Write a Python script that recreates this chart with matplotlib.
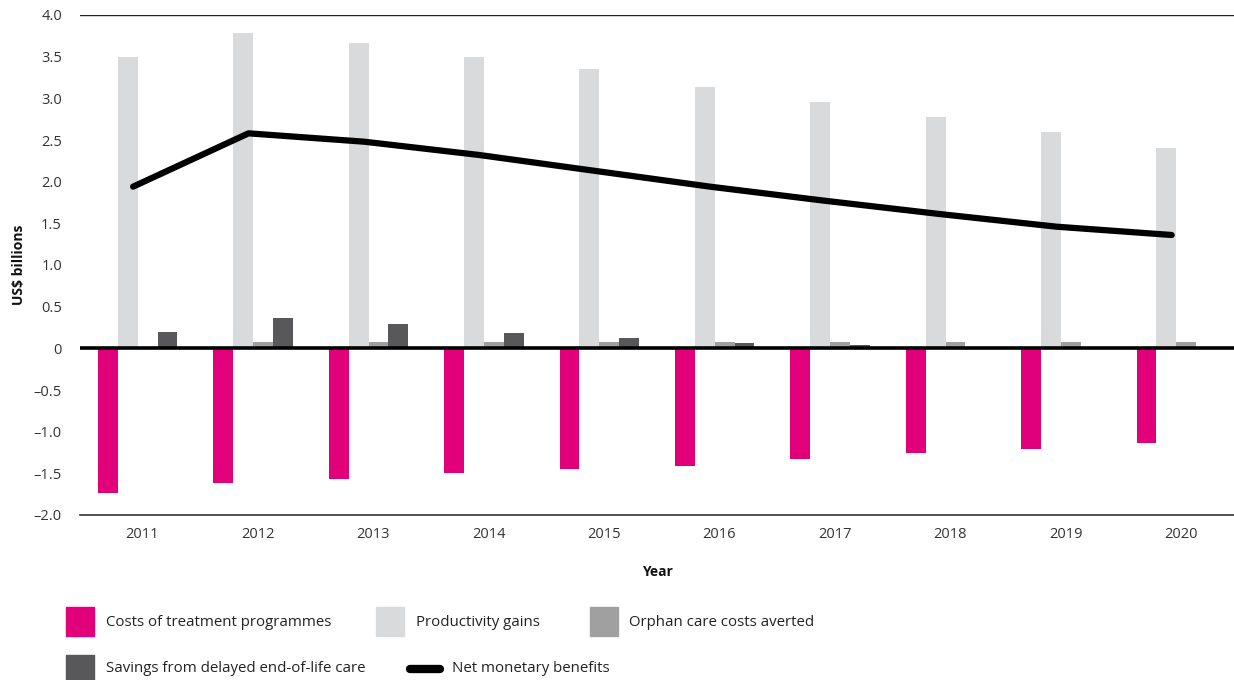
import matplotlib
matplotlib.use("Agg")
import matplotlib.pyplot as plt
from matplotlib.patches import Rectangle
from matplotlib.lines import Line2D
import numpy as np

plt.rcParams['font.family'] = ['Open Sans', 'DejaVu Sans']

years = ['2011', '2012', '2013', '2014', '2015', '2016', '2017', '2018', '2019', '2020']
costs = [-1.74, -1.62, -1.57, -1.50, -1.45, -1.41, -1.33, -1.26, -1.21, -1.14]
productivity = [3.50, 3.79, 3.66, 3.50, 3.35, 3.14, 2.96, 2.78, 2.60, 2.40]
orphan = [0.0, 0.08, 0.08, 0.08, 0.08, 0.08, 0.08, 0.08, 0.08, 0.08]
savings = [0.20, 0.36, 0.29, 0.18, 0.12, 0.06, 0.045, 0.0, 0.0, 0.0]
net = [1.94, 2.58, 2.48, 2.32, 2.13, 1.94, 1.77, 1.61, 1.46, 1.36]

series_labels = ['Costs of treatment programmes', 'Productivity gains',
                 'Orphan care costs averted', 'Savings from delayed end-of-life care',
                 'Net monetary benefits']
colors = ['#E2007A', '#D9DADC', '#A0A0A1', '#58585A']
ytick_vals = [4.0, 3.5, 3.0, 2.5, 2.0, 1.5, 1.0, 0.5, 0.0, -0.5, -1.0, -1.5, -2.0]

fig = plt.figure(figsize=(12.34, 6.8), dpi=100)
ax = fig.add_axes([80/1234, 1-515/680, 1-80/1234, 500/680])

x = np.arange(len(years))
w = 0.172
for i, (vals, col) in enumerate(zip([costs, productivity, orphan, savings], colors)):
    ax.bar(x + (i - 1.5) * w, vals, width=w, color=col, zorder=2)

ax.plot(x - 0.04, net, color='black', lw=4.5, solid_joinstyle='round',
        solid_capstyle='round', zorder=4)

ax.set_xlim(-0.5, len(years) - 0.5)
ax.set_ylim(-2.0, 4.0)
ax.axhline(0, color='black', lw=2.6, zorder=3)
ax.axhline(4.0, color='#222222', lw=1.0, zorder=1)

ax.set_yticks(ytick_vals)
ax.set_yticklabels(['0' if v == 0 else f'{v:.1f}'.replace('-', '\u2013') for v in ytick_vals])
ax.set_xticks(x + 0.04)
ax.set_xticklabels(years)
ax.tick_params(axis='both', length=0, labelsize=10.5, colors='#333333')
ax.tick_params(axis='x', pad=9)
ax.tick_params(axis='y', pad=13)
for s in ['top', 'left', 'right']:
    ax.spines[s].set_visible(False)
ax.spines['bottom'].set_color('#333333')
ax.spines['bottom'].set_linewidth(1.2)

ax.set_ylabel('US$ billions', fontsize=10, fontweight='bold', color='#111111')
ax.yaxis.set_label_coords(-54/1154, 0.5)
ax.set_xlabel('Year', fontsize=10, fontweight='bold', color='#111111')
ax.xaxis.set_label_coords(0.5, -50/500)

# Legend
def fx(px):
    return px / 1234
def fy(py):
    return 1 - py / 680

legend_items = [
    (66, 607, colors[0], 106, 622, series_labels[0]),
    (376, 607, colors[1], 416, 622, series_labels[1]),
    (590, 607, colors[2], 629, 622, series_labels[2]),
    (66, 655, colors[3], 106, 669, series_labels[3]),
]
for (sx, sy, col, tx, ty, lab) in legend_items:
    fig.add_artist(Rectangle((fx(sx), fy(sy + 29)), 28/1234, 29/680,
                             transform=fig.transFigure, color=col))
    fig.text(fx(tx), fy(ty), lab, fontsize=10.8, color='#222222', va='center', ha='left')
fig.add_artist(Line2D([fx(410), fx(440)], [fy(669), fy(669)], transform=fig.transFigure,
                      color='black', lw=6, solid_capstyle='round'))
fig.text(fx(452), fy(669), series_labels[4], fontsize=10.8, color='#222222',
         va='center', ha='left')

fig.savefig('out.png', dpi=100)
